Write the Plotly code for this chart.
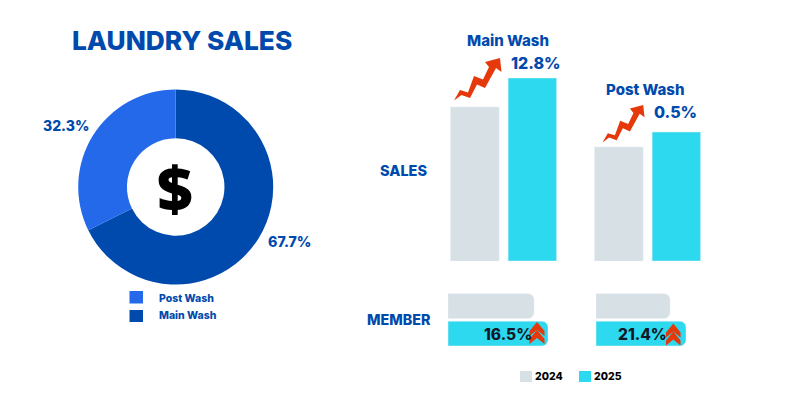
import plotly.graph_objects as go

W, H = 795, 393
FONT = "Inter"
NAVY = "#004AAD"
BLUE = "#2469EA"
CYAN = "#2CD9EE"
GREY = "#D6E0E5"
RED = "#E5380B"

share_labels = ["Main Wash", "Post Wash"]
share_values = [67.7, 32.3]
years = ["2024", "2025"]
sales_categories = ["Main Wash", "Post Wash"]
sales_2024 = [154, 114]
sales_2025 = [183, 129]
member_main = [86, 100]
member_post = [74, 90]
sales_growth = ["12.8%", "0.5%"]
member_growth = ["16.5%", "21.4%"]


def px(x):
    return x / W


def py(y):
    return 1 - y / H


fig = go.Figure()
fig.add_trace(go.Pie(
    labels=share_labels, values=share_values, sort=False, direction="clockwise",
    hole=0.5, textinfo="none", showlegend=False,
    marker=dict(colors=[NAVY, BLUE], line=dict(width=0)),
    domain=dict(x=[px(78.2), px(273.2)], y=[py(284.5), py(89.5)]),
))
fig.add_trace(go.Bar(x=sales_categories, y=sales_2024, name="2024", marker_color=GREY,
                     xaxis="x", yaxis="y", showlegend=False))
fig.add_trace(go.Bar(x=sales_categories, y=sales_2025, name="2025", marker_color=CYAN,
                     xaxis="x", yaxis="y", showlegend=False))
for vals, xa, ya in [(member_main, "x2", "y2"), (member_post, "x3", "y3")]:
    fig.add_trace(go.Bar(y=years, x=vals, orientation="h", xaxis=xa, yaxis=ya, showlegend=False,
                         marker=dict(color=[GREY, CYAN], cornerradius=6), width=0.9))

hidden = dict(visible=False, showgrid=False, zeroline=False, fixedrange=True)
fig.update_layout(
    width=W, height=H, margin=dict(l=0, r=0, t=0, b=0, autoexpand=False),
    paper_bgcolor="white", plot_bgcolor="white", barmode="group",
    bargap=0.201, bargroupgap=0.157,
    xaxis=dict(domain=[px(431.6), px(719.6)], range=[-0.5, 1.5], type="category", **hidden),
    yaxis=dict(domain=[py(261), py(61)], range=[0, 200], **hidden),
    xaxis2=dict(domain=[px(448), px(548)], range=[0, 100], anchor="y2", **hidden),
    yaxis2=dict(domain=[py(347.3), py(292.3)], type="category", range=[1.5, -0.5], anchor="x2", **hidden),
    xaxis3=dict(domain=[px(596), px(696)], range=[0, 100], anchor="y3", **hidden),
    yaxis3=dict(domain=[py(347.3), py(292.3)], type="category", range=[1.5, -0.5], anchor="x3", **hidden),
)


def label(text, x, y, size, color=NAVY, anchor="center", weight=800, family=FONT):
    fig.add_annotation(text=text, x=px(x), y=py(y), xref="paper", yref="paper",
                       xanchor=anchor, yanchor="middle", showarrow=False,
                       font=dict(family=family, size=size, color=color, weight=weight))


def polygon(points, color):
    d = "M " + " L ".join(f"{px(x):.5f},{py(y):.5f}" for x, y in points) + " Z"
    fig.add_shape(type="path", path=d, xref="paper", yref="paper",
                  fillcolor=color, line=dict(width=0), layer="above")


ARROW = [(0, 42.5), (6, 32), (14, 34.5), (20, 18), (29, 21.5), (35, 9), (31, 4), (46, 0),
         (47.5, 14), (42, 10), (31, 30), (23, 26.5), (16, 40), (7.5, 37)]


def arrow(x0, y0, sx, sy):
    polygon([(x0 + x * sx, y0 + y * sy) for x, y in ARROW], RED)


CHEV = [(0, 9), (7.5, 0), (15, 9), (15, 14), (7.5, 8), (0, 14)]


def chevrons(x0, y0, sx=1.0):
    for off in (0, 8):
        polygon([(x0 + x * sx, y0 + y + off) for x, y in CHEV], RED)


def square(x0, y0, x1, y1, color):
    fig.add_shape(type="rect", x0=px(x0), x1=px(x1), y0=py(y1), y1=py(y0), xref="paper", yref="paper",
                  fillcolor=color, line=dict(width=0))


arrow(454, 58, 1.0, 1.0)
arrow(602.5, 105, 0.885, 0.88)
chevrons(529.5, 322)
chevrons(666, 323.5, 0.97)

label("LAUNDRY SALES", 182, 41, 26.3)
label("$", 175, 186.5, 62, color="#000000", family="Open Sans")
label(f"{share_values[1]}%", 66, 126, 14)
label(f"{share_values[0]}%", 289.5, 241, 14.2)
label(sales_categories[0], 508, 41, 15)
label(sales_growth[0], 535.5, 63, 16)
label(sales_categories[1], 645, 90, 15)
label(sales_growth[1], 675.5, 112, 16)
label("SALES", 403.5, 170, 14.5)
label("MEMBER", 399, 319, 14.3)
label(member_growth[0], 533.5, 334.5, 15.5, color="#111827", anchor="right")
label(member_growth[1], 668.5, 334.5, 15.5, color="#111827", anchor="right")

square(129.5, 291, 143, 303.5, BLUE)
square(129.5, 310, 143, 322, NAVY)
label(share_labels[1], 157, 298, 10.5, anchor="left")
label(share_labels[0], 157, 315, 10.5, anchor="left")
square(520, 371, 532, 382, GREY)
square(579, 371, 591, 382, CYAN)
label(years[0], 533, 376.5, 10.5, color="#000000", anchor="left")
label(years[1], 592, 376.5, 10.5, color="#000000", anchor="left")

fig.write_html("out.html", config={"displayModeBar": False},
               post_script="document.body.style.margin='0';")
